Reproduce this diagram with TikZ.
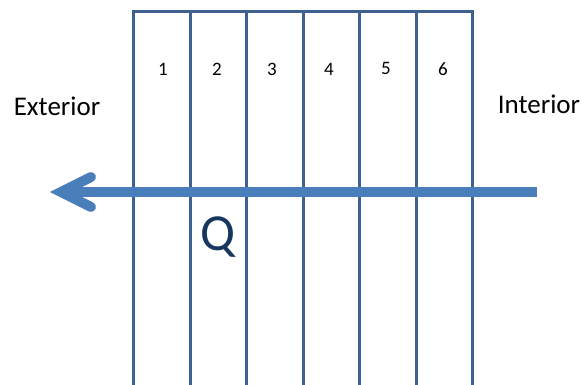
\documentclass[tikz,border=0pt]{standalone}
\usepackage{fontspec}
\setmainfont{Carlito}
\definecolor{gridc}{HTML}{3E6192}
\definecolor{arrc}{HTML}{4A7EBB}
\definecolor{qc}{HTML}{17375E}
\begin{document}
\begin{tikzpicture}[x=1pt,y=-1pt,
  wall/.style={draw=gridc,line width=3pt},
  flow/.style={draw=arrc,line width=10pt},
  num/.style={font=\fontsize{19}{19}\selectfont,text=black,inner sep=0pt},
  side/.style={font=\fontsize{27}{27}\selectfont,text=black,inner sep=0pt}]
\useasboundingbox (0,0) rectangle (582,384);
% walls
\draw[wall,line join=miter] (133.5,386) -- (133.5,11) -- (472,11) -- (472,386);
\foreach \x in {190.5,246.5,303,359,416}
  \draw[wall] (\x,11) -- (\x,386);
% arrow
\draw[flow,line cap=butt] (537,192) -- (64,192);
\draw[flow,line cap=round,line join=miter] (91,177) -- (61,192) -- (91,207);
% labels
\node[num] (n1) at (163,69) {1};
\node[num] (n2) at (217,69) {2};
\node[num] (n3) at (272,69) {3};
\node[num] (n4) at (329,69) {4};
\node[num] (n5) at (386,68) {5};
\node[num] (n6) at (443,69) {6};
\node[side] (ext) at (57,106) {Exterior};
\node[side] (int) at (539,104) {Interior};
\node[font=\fontsize{52}{52}\selectfont,text=qc,inner sep=0pt] (q) at (218,237) {Q};
\end{tikzpicture}
\end{document}
